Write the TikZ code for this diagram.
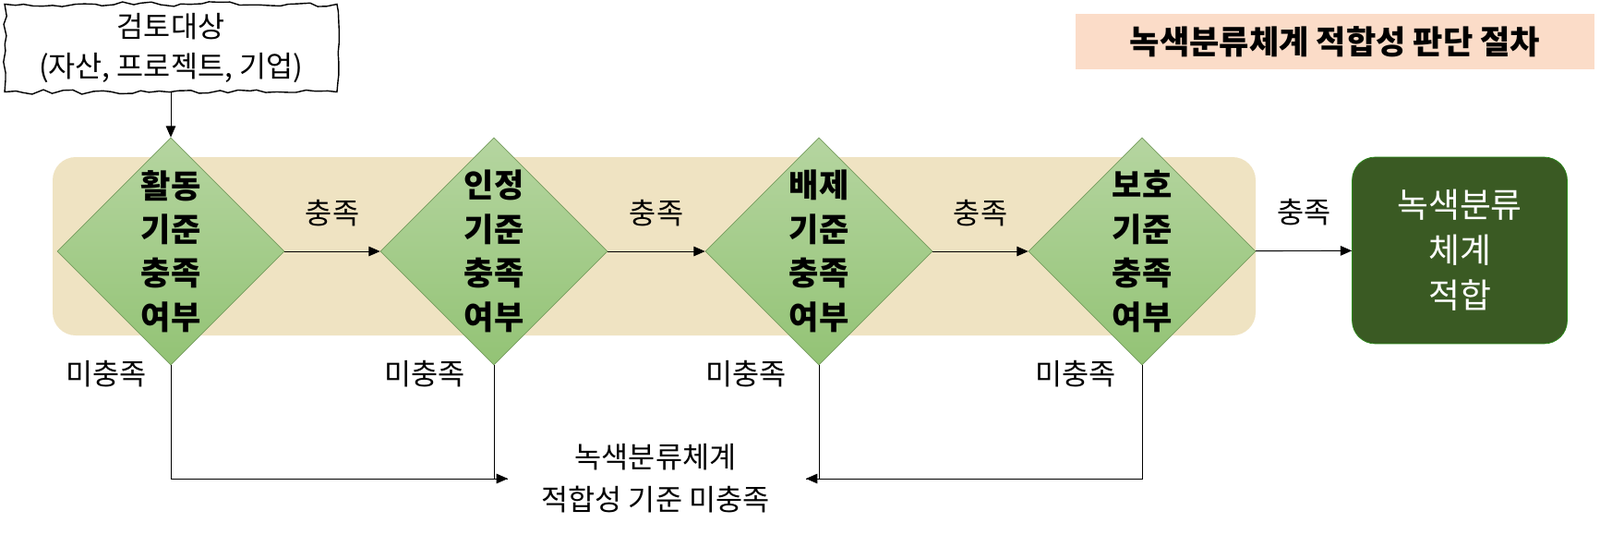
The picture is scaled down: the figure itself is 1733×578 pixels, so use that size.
\documentclass[tikz,border=0pt]{standalone}
\usepackage{fontspec}
\setmainfont{Noto Sans CJK KR}
\usetikzlibrary{shapes.geometric,arrows.meta,decorations.pathmorphing}
\definecolor{beige}{HTML}{EFE3C2}
\definecolor{peach}{HTML}{FBDCC8}
\definecolor{dgreen}{HTML}{3A5A23}
\definecolor{dtop}{HTML}{B5D5A0}
\definecolor{dbot}{HTML}{93C375}
\begin{document}
\begin{tikzpicture}[x=0.02cm,y=-0.02cm,
 dia/.style={diamond,draw=dbot!80!black,line width=0.4pt,top color=dtop,bottom color=dbot,minimum width=246\pgflinewidth*0+4.92cm,minimum height=4.92cm,inner sep=0pt,align=center,font=\fontsize{20}{27}\selectfont\bfseries},
 arr/.style={-{Triangle[length=7pt,width=6pt]},line width=0.5pt},
 lab/.style={font=\fontsize{18}{22}\selectfont}]
\useasboundingbox (0,0) rectangle (1733,578);
\fill[beige,rounded corners=0.5cm] (57,170) rectangle (1360,363);
\node[fill=peach,minimum width=11.26cm,minimum height=1.2cm,font=\fontsize{20}{24}\selectfont\bfseries] (title) at (1446,45) {녹색분류체계 적합성 판단 절차};
\node[draw,line width=0.8pt,decorate,decoration={random steps,segment length=6pt,amplitude=1.5pt},minimum width=7.2cm,minimum height=1.9cm,align=center,font=\fontsize{18}{24}\selectfont] (src) at (185,52) {검토대상\\(자산, 프로젝트, 기업)};
\node[dia] (d1) at (185,272) {활동\\기준\\충족\\여부};
\node[dia] (d2) at (535,272) {인정\\기준\\충족\\여부};
\node[dia] (d3) at (887,272) {배제\\기준\\충족\\여부};
\node[dia] (d4) at (1237,272) {보호\\기준\\충족\\여부};
\node[fill=dgreen,draw=dgreen!70!green,rounded corners=0.5cm,minimum width=4.66cm,minimum height=4.04cm,align=center,text=white,font=\fontsize{21}{28}\selectfont] (ok) at (1581,271) {녹색분류\\체계\\적합};
\node[align=center,font=\fontsize{18}{26}\selectfont] (no) at (710,518) {녹색분류체계\\적합성 기준 미충족};
\draw[arr] (src) -- (d1);
\draw[arr] (d1) -- node[lab,above=12pt]{충족} (d2);
\draw[arr] (d2) -- node[lab,above=12pt]{충족} (d3);
\draw[arr] (d3) -- node[lab,above=12pt]{충족} (d4);
\draw[arr] (d4) -- node[lab,above=12pt]{충족} (ok);
\coordinate (la) at (550,518);
\coordinate (ra) at (873,518);
\draw[line width=0.5pt] (d1.south) |- (la);
\draw[arr] (d2.south) |- (la);
\draw[line width=0.5pt] (d4.south) |- (ra);
\draw[arr] (d3.south) |- (ra);
\node[lab] at (115,405) {미충족};
\node[lab] at (460,405) {미충족};
\node[lab] at (808,405) {미충족};
\node[lab] at (1165,405) {미충족};
\end{tikzpicture}
\end{document}
